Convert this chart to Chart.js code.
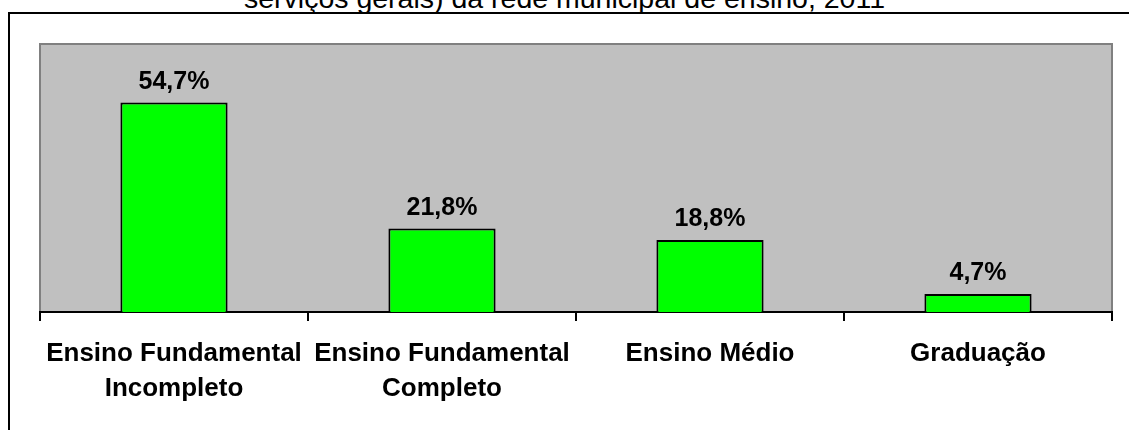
<!DOCTYPE html>
<html lang="pt-BR">
<head>
<meta charset="utf-8">
<title>Escolaridade - rede municipal de ensino, 2011</title>
<script src="https://cdn.jsdelivr.net/npm/chart.js@4/dist/chart.umd.min.js"></script>
<style>
    html, body { margin: 0; padding: 0; background: #fff; overflow: hidden; }
    #wrap { position: relative; width: 1129px; height: 430px; overflow: hidden; }
    #titulo {
        position: absolute; left: 0; top: -16px; width: 1129px;
        text-align: center; font: 28.5px/28px Arial, "Liberation Sans", sans-serif; color: #000;
        white-space: nowrap;
    }
    #moldura {
        position: absolute; left: 8px; top: 12px; width: 1200px; height: 500px;
        border-left: 2px solid #000; border-top: 2px solid #000;
    }
    #grafico { position: absolute; left: 0; top: 0; }
</style>
</head>
<body>
<div id="wrap">
    <div id="titulo">serviços gerais) da rede municipal de ensino, 2011</div>
    <div id="moldura"></div>
    <canvas id="grafico" width="1129" height="430"></canvas>
</div>
<script>
// Dados
const categorias = [
    ['Ensino Fundamental', 'Incompleto'],
    ['Ensino Fundamental', 'Completo'],
    'Ensino Médio',
    'Graduação'
];
const percentuais = [54.7, 21.8, 18.8, 4.7];
const eixoMin = 0;
const eixoMax = 70;

const fonte = 'Arial, "Liberation Sans", sans-serif';

// Fundo cinza da área do gráfico
const fundoArea = {
    id: 'fundoArea',
    beforeDraw(chart) {
        const { ctx, chartArea: a } = chart;
        ctx.save();
        ctx.fillStyle = '#C0C0C0';
        ctx.fillRect(a.left, a.top, a.right - a.left, a.bottom - a.top);
        ctx.strokeStyle = '#808080';
        ctx.lineWidth = 2;
        ctx.beginPath();
        ctx.moveTo(a.left, a.bottom);
        ctx.lineTo(a.left, a.top);
        ctx.lineTo(a.right, a.top);
        ctx.lineTo(a.right, a.bottom);
        ctx.stroke();
        ctx.restore();
    }
};

// Rótulos de valor acima das barras
const rotulosValor = {
    id: 'rotulosValor',
    afterDatasetsDraw(chart) {
        const { ctx } = chart;
        const meta = chart.getDatasetMeta(0);
        ctx.save();
        ctx.font = `bold 25px ${fonte}`;
        ctx.fillStyle = '#000';
        ctx.textAlign = 'center';
        ctx.textBaseline = 'alphabetic';
        meta.data.forEach((bar, i) => {
            const texto = percentuais[i].toFixed(1).replace('.', ',') + '%';
            ctx.fillText(texto, bar.x, bar.y - 14);
        });
        ctx.restore();
    }
};

new Chart(document.getElementById('grafico'), {
    type: 'bar',
    data: {
        labels: categorias,
        datasets: [{
            data: percentuais,
            backgroundColor: '#00FF00',
            borderColor: '#000',
            borderWidth: 2,
            barPercentage: 0.4,
            categoryPercentage: 1
        }]
    },
    options: {
        responsive: false,
        animation: false,
        layout: { padding: { left: 40, right: 17, top: 44, bottom: 0 } },
        plugins: { legend: { display: false }, tooltip: { enabled: false }, title: { display: false } },
        scales: {
            x: {
                grid: { display: true, drawOnChartArea: false, drawTicks: true, tickLength: 9, color: '#000', lineWidth: 2 },
                border: { display: true, color: '#000', width: 2 },
                ticks: {
                    color: '#000', padding: 15, maxRotation: 0, autoSkip: false,
                    font: { family: fonte, size: 26, weight: 'bold', lineHeight: 1.35 }
                },
                afterFit: s => { s.height = 118; }
            },
            y: { display: false, min: eixoMin, max: eixoMax }
        }
    },
    plugins: [fundoArea, rotulosValor]
});
</script>
</body>
</html>
